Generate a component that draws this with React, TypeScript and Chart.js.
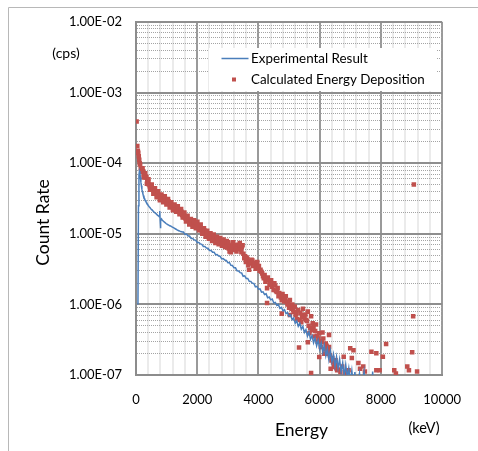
import React, { useEffect, useRef } from "react";
import { Chart, registerables } from "chart.js";

Chart.register(...registerables);

// ---------------- data ----------------
const xTickValues = [0, 2000, 4000, 6000, 8000, 10000];
const xTickLabels = ["0", "2000", "4000", "6000", "8000", "10000"];
const xMinorStep = 400;

const yTickValues = [1e-7, 1e-6, 1e-5, 1e-4, 1e-3, 1e-2];
const yTickLabels = ["1.00E-07", "1.00E-06", "1.00E-05", "1.00E-04", "1.00E-03", "1.00E-02"];
const yMinorMultipliers = [2, 3, 4, 5, 6, 7, 8, 9];

const seriesNames = ["Experimental Result", "Calculated Energy Deposition"];
const axisTitleX = "Energy";
const axisTitleY = "Count Rate";
const unitX = "(keV)";
const unitY = "(cps)";

// Experimental Result: [energy keV, count rate cps]
const experimental: [number, number][] = [
  [64, 1.0e-6], [80, 2.5e-5], [96, 6.8e-5], [112, 7.7e-5], [128, 7.3e-5], [144, 6.3e-5],
  [160, 5.4e-5], [176, 4.8e-5], [192, 4.3e-5], [208, 3.95e-5], [224, 3.7e-5], [240, 3.5e-5],
  [260, 3.3e-5], [280, 3.15e-5], [300, 3.0e-5], [325, 2.85e-5], [350, 2.75e-5], [375, 2.62e-5],
  [400, 2.52e-5], [430, 2.42e-5], [460, 2.34e-5], [490, 2.25e-5], [520, 2.18e-5], [550, 2.12e-5],
  [580, 2.05e-5], [610, 2.0e-5], [640, 1.94e-5], [670, 1.9e-5], [700, 1.84e-5], [730, 1.8e-5],
  [760, 1.75e-5], [775, 2.1e-5], [788, 1.6e-5], [798, 1.2e-5], [810, 1.55e-5], [835, 1.62e-5],
  [860, 1.55e-5], [890, 1.52e-5], [920, 1.47e-5], [950, 1.44e-5], [980, 1.4e-5], [1010, 1.37e-5],
  [1040, 1.35e-5], [1070, 1.33e-5], [1100, 1.3e-5], [1130, 1.29e-5], [1160, 1.26e-5], [1190, 1.24e-5],
  [1220, 1.22e-5], [1250, 1.2e-5], [1280, 1.18e-5], [1310, 1.16e-5], [1340, 1.14e-5], [1370, 1.12e-5],
  [1400, 1.11e-5], [1430, 1.09e-5], [1460, 1.08e-5], [1490, 1.07e-5], [1520, 1.06e-5],
  [1550, 1.06e-5], [1600, 9.8e-6], [1650, 9.9e-6], [1700, 9.3e-6], [1750, 9.3e-6], [1800, 8.6e-6],
  [1850, 8.6e-6], [1900, 8.2e-6], [1950, 8.1e-6], [2000, 7.55e-6], [2050, 7.55e-6], [2100, 7.2e-6],
  [2150, 7.1e-6], [2200, 6.6e-6], [2250, 6.6e-6], [2300, 6.3e-6], [2350, 6.25e-6], [2400, 5.8e-6],
  [2450, 5.8e-6], [2500, 5.5e-6], [2550, 5.5e-6], [2600, 5.05e-6], [2650, 5.1e-6], [2700, 4.85e-6],
  [2750, 4.8e-6], [2800, 4.4e-6], [2850, 4.45e-6], [2900, 4.25e-6], [2950, 4.2e-6], [3000, 3.9e-6],
  [3050, 3.92e-6], [3100, 3.57e-6], [3150, 3.56e-6], [3200, 3.3e-6], [3250, 3.3e-6], [3300, 2.99e-6],
  [3350, 2.98e-6], [3400, 2.82e-6], [3450, 2.79e-6], [3500, 2.5e-6], [3550, 2.54e-6], [3600, 2.33e-6],
  [3650, 2.33e-6], [3700, 2.12e-6], [3750, 2.11e-6], [3800, 2.0e-6], [3850, 1.98e-6], [3900, 1.77e-6],
  [3950, 1.8e-6], [4000, 1.64e-6], [4050, 1.66e-6], [4100, 1.49e-6], [4150, 1.51e-6], [4200, 1.38e-6],
  [4250, 1.41e-6], [4300, 1.24e-6], [4350, 1.27e-6], [4400, 1.16e-6], [4450, 1.19e-6], [4500, 1.05e-6],
  [4550, 1.07e-6], [4600, 9.7e-7], [4650, 1.0e-6], [4700, 8.8e-7], [4750, 9.1e-7], [4800, 8.1e-7],
  [4850, 8.4e-7], [4900, 7.4e-7], [4950, 7.65e-7], [5000, 6.8e-7],
  [5050, 7.1e-7], [5100, 6.05e-7], [5150, 6.4e-7], [5200, 5.4e-7], [5250, 5.85e-7], [5300, 4.9e-7],
  [5350, 5.4e-7], [5400, 4.45e-7], [5450, 4.9e-7], [5500, 4.0e-7], [5550, 4.4e-7], [5600, 3.56e-7],
  [5650, 4.1e-7], [5700, 3.2e-7], [5750, 3.6e-7], [5800, 2.86e-7], [5850, 3.35e-7], [5900, 2.6e-7],
  [5950, 3.1e-7], [6000, 2.35e-7],
  [6050, 2.87e-7], [6100, 2.1e-7], [6150, 2.65e-7], [6200, 1.87e-7], [6250, 2.35e-7], [6300, 1.65e-7],
  [6350, 2.2e-7], [6400, 1.53e-7], [6450, 1.96e-7], [6500, 1.32e-7], [6550, 1.81e-7], [6600, 1.25e-7],
  [6650, 1.67e-7], [6700, 1.1e-7], [6750, 1.48e-7], [6800, 9.8e-8], [6850, 1.4e-7], [6900, 9.3e-8],
  [6950, 1.25e-7], [7000, 8e-8], [7050, 1.15e-7], [7100, 7e-8], [7150, 1.1e-7], [7200, 6e-8],
  [7300, 1.05e-7], [7350, 6e-8], [7450, 1.12e-7], [7500, 5e-8], [7700, 5e-8], [7730, 1.12e-7],
  [7760, 5e-8],
];

// Calculated Energy Deposition: [energy keV, count rate cps]
const calculated: [number, number][] = [
  [20, 3.9e-4], [42, 1.75e-4], [60, 1.5e-4], [74, 1.4e-4], [90, 1.25e-4], [106, 1.12e-4],
  [120, 1.0e-4], [135, 9.6e-5], [155, 8.4e-5], [181, 7.9e-5], [205, 7.6e-5], [234, 7.7e-5],
  [260, 6.9e-5], [288, 6.6e-5], [315, 6.3e-5], [341, 6.4e-5], [368, 5.8e-5], [394, 5.5e-5],
  [420, 5.0e-5], [447, 4.7e-5], [475, 4.8e-5], [500, 4.4e-5], [527, 4.3e-5], [554, 4.2e-5],
  [580, 4.0e-5], [607, 3.9e-5], [634, 3.8e-5], [660, 3.7e-5], [687, 3.5e-5], [714, 3.6e-5],
  [740, 3.4e-5], [767, 3.5e-5], [794, 3.2e-5], [820, 3.3e-5], [847, 3.1e-5], [873, 3.2e-5],
  [900, 3.0e-5], [927, 2.9e-5], [953, 3.1e-5], [980, 2.95e-5], [1006, 2.8e-5], [1033, 2.75e-5],
  [1060, 2.9e-5], [1086, 2.7e-5], [1113, 2.55e-5], [1140, 2.6e-5], [1166, 2.45e-5], [1193, 2.4e-5],
  [1220, 2.5e-5], [1246, 2.3e-5], [1273, 2.35e-5], [1300, 2.25e-5], [1326, 2.3e-5], [1353, 2.1e-5],
  [1380, 2.2e-5], [1406, 2.15e-5], [1433, 2.0e-5], [1460, 1.95e-5], [1486, 2.05e-5], [1512, 1.85e-5],
  [1540, 1.8e-5], [1566, 1.9e-5], [1593, 1.7e-5], [1619, 1.65e-5], [1646, 1.72e-5], [1672, 1.6e-5],
  [1700, 1.55e-5], [1725, 1.6e-5], [1752, 1.5e-5], [1780, 1.45e-5], [1805, 1.5e-5], [1832, 1.4e-5],
  [1858, 1.35e-5], [1885, 1.42e-5], [1912, 1.3e-5], [1938, 1.34e-5], [1965, 1.28e-5], [1992, 1.25e-5],
  [2018, 1.3e-5], [2045, 1.22e-5], [2072, 1.18e-5], [2098, 1.24e-5], [2125, 1.12e-5], [2151, 1.15e-5],
  [2178, 1.1e-5], [2205, 1.05e-5], [2231, 1.12e-5], [2258, 1.06e-5], [2284, 1.0e-5], [2311, 1.04e-5],
  [2338, 9.6e-6], [2364, 9.9e-6], [2391, 9.3e-6], [2418, 9.0e-6], [2444, 9.6e-6], [2471, 8.8e-6],
  [2497, 9.1e-6], [2524, 8.5e-6], [2551, 8.8e-6], [2577, 8.3e-6], [2604, 8.0e-6], [2630, 8.6e-6],
  [2657, 7.9e-6], [2684, 8.2e-6], [2710, 7.6e-6], [2737, 8.0e-6], [2764, 7.3e-6], [2790, 7.7e-6],
  [2817, 7.1e-6], [2843, 7.5e-6], [2870, 6.8e-6], [2897, 7.3e-6], [2923, 6.6e-6], [2950, 7.0e-6],
  [2977, 6.4e-6], [3003, 7.4e-6], [3030, 6.2e-6], [3056, 5.6e-6], [3083, 6.8e-6], [3110, 6.7e-6],
  [3136, 6.0e-6], [3163, 7.2e-6], [3190, 6.4e-6], [3216, 6.9e-6], [3243, 5.9e-6], [3270, 6.2e-6],
  [3296, 6.6e-6], [3323, 7.0e-6], [3350, 6.1e-6], [3376, 6.8e-6], [3403, 6.4e-6], [3429, 6.0e-6],
  [3456, 6.5e-6], [3482, 6.9e-6], [3509, 5.2e-6], [3536, 4.5e-6], [3562, 4.8e-6], [3589, 4.0e-6],
  [3615, 4.6e-6], [3642, 4.4e-6], [3669, 3.6e-6], [3695, 3.1e-6], [3722, 4.1e-6], [3749, 3.8e-6],
  [3775, 4.3e-6], [3802, 4.2e-6], [3828, 3.5e-6], [3855, 3.6e-6], [3882, 3.9e-6], [3908, 3.2e-6],
  [3935, 3.7e-6], [3962, 4.0e-6], [3988, 3.3e-6], [4015, 3.5e-6], [4041, 3.0e-6], [4068, 3.1e-6],
  [4095, 2.9e-6], [4121, 2.75e-6], [4148, 2.5e-6], [4174, 2.35e-6], [4201, 2.6e-6], [4228, 2.1e-6],
  [4254, 2.3e-6], [4281, 1.7e-6], [4281, 1.05e-6], [4308, 2.4e-6], [4334, 2.2e-6], [4361, 1.9e-6],
  [4387, 2.0e-6], [4414, 2.2e-6], [4441, 1.78e-6], [4467, 1.95e-6], [4494, 1.6e-6], [4520, 2.0e-6],
  [4547, 1.85e-6], [4574, 1.55e-6], [4600, 1.5e-6], [4627, 1.7e-6], [4654, 1.3e-6], [4680, 1.45e-6],
  [4707, 1.38e-6], [4733, 1.25e-6], [4760, 1.15e-6], [4760, 7.4e-7], [4787, 1.4e-6], [4813, 1.3e-6],
  [4840, 1.1e-6], [4867, 1.22e-6], [4893, 1.3e-6], [4920, 1.1e-6], [4946, 1.0e-6], [4973, 1.05e-6],
  [5000, 9.0e-7], [5026, 1.15e-6], [5026, 7.1e-7], [5053, 9.5e-7], [5080, 8.7e-7], [5106, 1.0e-6],
  [5133, 8.3e-7], [5160, 7.8e-7], [5186, 9.3e-7], [5213, 7.0e-7], [5239, 7.4e-7], [5266, 6.2e-7],
  [5293, 8.3e-7], [5325, 2.45e-7], [5346, 6.0e-7], [5372, 7.6e-7], [5399, 5.6e-7], [5426, 6.6e-7],
  [5453, 8.7e-7], [5480, 7.0e-7], [5506, 6.3e-7], [5533, 7.2e-7], [5559, 6.0e-7], [5586, 5.8e-7],
  [5613, 7.9e-7], [5613, 2.9e-7], [5640, 5.0e-7], [5666, 3.9e-7], [5693, 4.6e-7], [5719, 6.8e-7],
  [5719, 1.07e-7], [5746, 4.3e-7], [5772, 5.4e-7], [5799, 4.8e-7], [5826, 3.5e-7], [5853, 4.2e-7],
  [5880, 5.2e-7], [5906, 3.6e-7], [5932, 2.95e-7], [5959, 3.3e-7], [5985, 3.9e-7], [5985, 1.8e-7],
  [6012, 3.0e-7], [6038, 2.5e-7], [6065, 2.9e-7], [6092, 4.0e-7], [6118, 3.3e-7], [6145, 2.0e-7],
  [6172, 2.3e-7], [6198, 2.8e-7], [6225, 2.6e-7], [6252, 2.0e-7], [6278, 2.2e-7], [6305, 3.7e-7],
  [6305, 2.5e-7], [6332, 1.9e-7], [6358, 1.23e-7], [6385, 1.6e-7], [6411, 1.74e-7], [6438, 1.5e-7],
  [6465, 1.3e-7], [6491, 1.4e-7], [6518, 1.62e-7], [6545, 1.25e-7], [6571, 1.17e-7], [6625, 1.2e-7],
  [6678, 1.1e-7], [6731, 1.32e-7], [6784, 1.82e-7], [6838, 1.08e-7], [6944, 1.17e-7], [6997, 2.4e-7],
  [7050, 1.74e-7], [7104, 2.24e-7], [7264, 1.48e-7], [7317, 1.23e-7], [7424, 1.32e-7], [7477, 1.12e-7],
  [7690, 2.14e-7], [7850, 2.04e-7], [7850, 1.17e-7], [7957, 1.17e-7], [8063, 1.82e-7], [8169, 2.75e-7],
  [8436, 1.17e-7], [8489, 1.05e-7], [8861, 1.32e-7], [8915, 1.17e-7], [9021, 2.1e-7], [9053, 6.8e-7],
  [9075, 5.0e-5], [9181, 1.12e-7],
  // second row of the scattered band
  [215, 8.5e-5], [248, 6.3e-5], [302, 7.2e-5], [355, 5.1e-5], [408, 5.9e-5], [461, 4.2e-5],
  [514, 5.0e-5], [567, 3.7e-5], [620, 4.4e-5], [674, 3.3e-5], [727, 4.0e-5], [780, 3.0e-5],
  [833, 3.6e-5], [887, 2.8e-5], [940, 3.4e-5], [993, 2.6e-5], [1046, 3.1e-5], [1100, 2.35e-5],
  [1153, 2.8e-5], [1206, 2.15e-5], [1260, 2.6e-5], [1313, 2.05e-5], [1366, 2.45e-5], [1420, 1.9e-5],
  [1473, 2.25e-5], [1526, 1.7e-5], [1580, 2.0e-5], [1633, 1.5e-5], [1686, 1.8e-5], [1740, 1.35e-5],
  [1793, 1.62e-5], [1846, 1.26e-5], [1900, 1.55e-5], [1953, 1.2e-5], [2006, 1.48e-5], [2060, 1.12e-5],
  [2113, 1.35e-5], [2166, 1.0e-5], [2220, 1.2e-5], [2273, 9.1e-6], [2326, 1.1e-5], [2380, 8.5e-6],
  [2433, 1.02e-5], [2486, 7.9e-6], [2540, 9.8e-6], [2593, 7.4e-6], [2646, 9.1e-6], [2700, 7.1e-6],
  [2753, 8.7e-6], [2806, 6.8e-6], [2860, 8.3e-6], [2913, 6.5e-6], [2966, 7.9e-6], [3016, 7.6e-6],
  [3096, 5.5e-6], [3176, 7.6e-6], [3283, 5.6e-6], [3390, 7.4e-6], [3442, 5.5e-6],
];

// ---------------- styling ----------------
const W = 478;
const H = 451;
const BLUE = "#4A7EBB";
const RED = "#C0504D";
const FONT = "Lato, 'Open Sans', sans-serif";

const isMajorY = (v: number) =>
  yTickValues.some((t) => Math.abs(Math.log10(v) - Math.log10(t)) < 1e-6);
const isMajorX = (v: number) => xTickValues.includes(v);

const decorPlugin = {
  id: "decor",
  beforeDraw(chart: any) {
    const ctx = chart.ctx;
    ctx.save();
    ctx.fillStyle = "#ffffff";
    ctx.fillRect(0, 0, W, H);
    ctx.strokeStyle = "#b8b8b8";
    ctx.lineWidth = 1;
    ctx.beginPath();
    ctx.moveTo(8.5, H);
    ctx.lineTo(8.5, 7.5);
    ctx.lineTo(W, 7.5);
    ctx.stroke();
    ctx.restore();
  },
  afterDraw(chart: any) {
    const ctx = chart.ctx;
    const ds = chart.data.datasets;
    ctx.save();
    // legend box
    ctx.fillStyle = "#ffffff";
    ctx.fillRect(209, 48, 227, 43);
    ctx.strokeStyle = ds[0].borderColor;
    ctx.lineWidth = 1.5;
    ctx.beginPath();
    ctx.moveTo(221.5, 58.5);
    ctx.lineTo(248.5, 58.5);
    ctx.stroke();
    ctx.fillStyle = ds[1].backgroundColor;
    ctx.fillRect(232, 77.5, 4, 4);
    ctx.fillStyle = "#000000";
    ctx.font = `13.4px ${FONT}`;
    ctx.textAlign = "left";
    ctx.textBaseline = "middle";
    ctx.fillText(ds[0].label, 251, 58.5);
    ctx.fillText(ds[1].label, 251, 79.5);

    // axis titles and units
    ctx.textAlign = "center";
    ctx.font = `14px ${FONT}`;
    ctx.fillText(unitY, 66, 53);
    ctx.font = `14.5px ${FONT}`;
    ctx.fillText(unitX, 424, 428);
    ctx.font = `17.5px ${FONT}`;
    ctx.fillText(axisTitleX, 301.5, 430);
    ctx.translate(43, 222.5);
    ctx.rotate(-Math.PI / 2);
    ctx.fillText(axisTitleY, 0, 0);
    ctx.restore();
  },
};

export default function App() {
  const canvasRef = useRef<HTMLCanvasElement | null>(null);

  useEffect(() => {
    const canvas = canvasRef.current;
    if (!canvas) return;

    const yGrid: number[] = [];
    yTickValues.forEach((t, i) => {
      yGrid.push(t);
      if (i < yTickValues.length - 1) yMinorMultipliers.forEach((m) => yGrid.push(t * m));
    });
    const xGrid: number[] = [];
    for (let v = xTickValues[0]; v <= xTickValues[xTickValues.length - 1]; v += xMinorStep) xGrid.push(v);

    const chart = new Chart(canvas, {
      type: "scatter",
      data: {
        datasets: [
          {
            label: seriesNames[0],
            data: experimental.map(([x, y]) => ({ x, y })),
            showLine: true,
            borderColor: BLUE,
            backgroundColor: BLUE,
            borderWidth: 1.5,
            pointRadius: 0,
            tension: 0,
          },
          {
            label: seriesNames[1],
            data: calculated.map(([x, y]) => ({ x, y })),
            showLine: false,
            borderColor: RED,
            backgroundColor: RED,
            pointStyle: "rect",
            pointRadius: 3.2,
            pointBorderWidth: 0,
            borderWidth: 0,
          },
        ],
      },
      options: {
        responsive: false,
        animation: false,
        devicePixelRatio: 1,
        layout: { padding: { top: 22, right: 29, bottom: 0, left: 0 } },
        plugins: { legend: { display: false }, tooltip: { enabled: false } },
        scales: {
          x: {
            type: "linear",
            min: 0,
            max: 10000,
            afterFit: (s: any) => {
              s.height = H - 375;
            },
            afterBuildTicks: (s: any) => {
              s.ticks = xGrid.map((v) => ({ value: v }));
            },
            ticks: {
              autoSkip: false,
              maxRotation: 0,
              padding: 17,
              color: "#000000",
              font: { family: FONT, size: 13 },
              callback: (v: any) => {
                const i = xTickValues.indexOf(Number(v));
                return i >= 0 ? xTickLabels[i] : "";
              },
            },
            grid: {
              drawTicks: false,
              color: (c: any) => (c.tick && isMajorX(c.tick.value) ? "#9a9a9a" : "#ebebeb"),
              lineWidth: 2,
            },
            border: { display: true, color: "#8c8c8c", width: 2 },
          },
          y: {
            type: "logarithmic",
            min: 1e-7,
            max: 1e-2,
            afterFit: (s: any) => {
              s.width = 136;
            },
            afterBuildTicks: (s: any) => {
              s.ticks = yGrid.map((v) => ({ value: v }));
            },
            ticks: {
              autoSkip: false,
              padding: 14,
              color: "#000000",
              font: { family: FONT, size: 13 },
              callback: (v: any) => {
                const i = yTickValues.findIndex((t) => Math.abs(Math.log10(Number(v)) - Math.log10(t)) < 1e-6);
                return i >= 0 ? yTickLabels[i] : "";
              },
            },
            grid: {
              drawTicks: false,
              color: (c: any) => (c.tick && isMajorY(c.tick.value) ? "#8e8e8e" : "#a4a4a4"),
              lineWidth: (c: any) => (c.tick && isMajorY(c.tick.value) ? 2 : 1),
            },
            border: {
              display: true,
              color: "#8c8c8c",
              width: 2,
              dash: (c: any) => (c.tick && !isMajorY(c.tick.value) ? [1, 1] : []),
            },
          },
        },
      },
      plugins: [decorPlugin],
    } as any);

    return () => chart.destroy();
  }, []);

  return (
    <div style={{ position: "fixed", left: 0, top: 0, width: W, height: H, background: "#fff" }}>
      <canvas ref={canvasRef} width={W} height={H} style={{ display: "block", width: W, height: H }} />
    </div>
  );
}
